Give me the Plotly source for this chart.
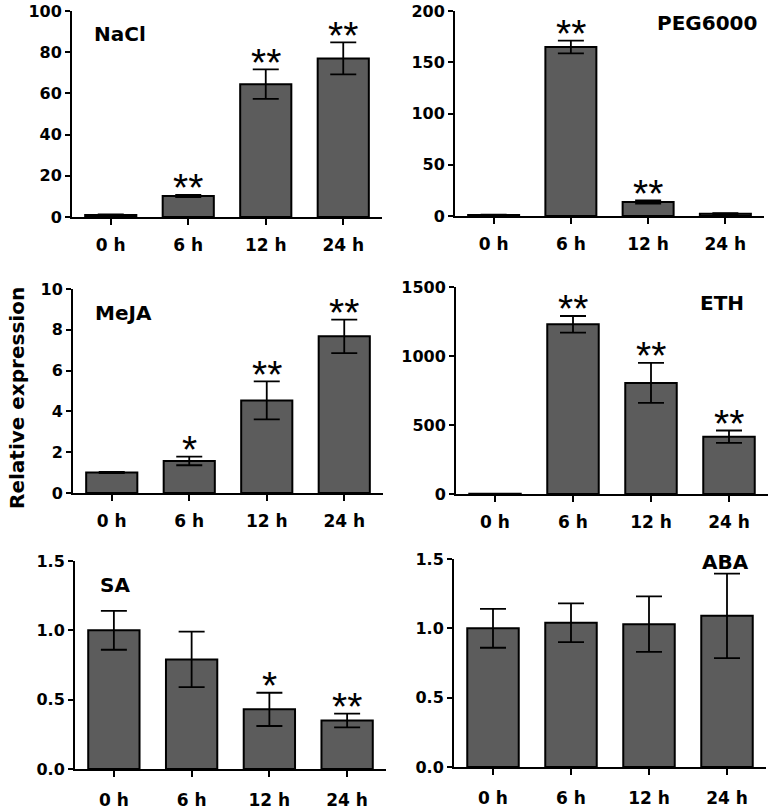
import plotly.graph_objects as go

categories = ["0 h", "6 h", "12 h", "24 h"]

nacl_mean = [1.0, 10.2, 64.5, 77.0]
nacl_err = [0.3, 0.5, 7.2, 7.8]
nacl_sig = ["", "**", "**", "**"]

peg_mean = [1.0, 164.9, 13.7, 2.3]
peg_err = [0.3, 6.2, 1.5, 0.5]
peg_sig = ["", "**", "**", ""]

meja_mean = [1.0, 1.57, 4.54, 7.68]
meja_err = [0.03, 0.21, 0.93, 0.82]
meja_sig = ["", "*", "**", "**"]

eth_mean = [1.0, 1230, 805, 415]
eth_err = [0.2, 60, 145, 45]
eth_sig = ["", "**", "**", "**"]

sa_mean = [1.0, 0.79, 0.43, 0.35]
sa_err = [0.14, 0.20, 0.12, 0.05]
sa_sig = ["", "", "*", "**"]

aba_mean = [1.0, 1.04, 1.03, 1.09]
aba_err = [0.14, 0.14, 0.20, 0.305]
aba_sig = ["", "", "", ""]

panel_names = ["NaCl", "PEG6000", "MeJA", "ETH", "SA", "ABA"]
y_ranges = [[0, 100], [0, 200], [0, 10], [0, 1500], [0, 1.5], [0, 1.5]]
y_ticks = [[0, 20, 40, 60, 80, 100], [0, 50, 100, 150, 200], [0, 2, 4, 6, 8, 10],
           [0, 500, 1000, 1500], [0, 0.5, 1.0, 1.5], [0, 0.5, 1.0, 1.5]]
y_fmt = ["", "", "", "", ".1f", ".1f"]

W, H = 772, 811
# plot-area pixel boxes (x0, x1, ytop, ybottom)
boxes = [(72, 382, 11, 217), (455, 764, 11, 216), (73, 383, 289, 493),
         (456, 768, 287, 494), (75, 386, 561, 769), (454, 766, 559, 767)]
standoffs = [6, 6, 6, 6, 9, 9]
# panel label centres in pixels
label_pos = [(120, 34), (707, 23), (124, 313), (722, 303), (115, 585), (725, 562)]

means = [nacl_mean, peg_mean, meja_mean, eth_mean, sa_mean, aba_mean]
errs = [nacl_err, peg_err, meja_err, eth_err, sa_err, aba_err]
sigs = [nacl_sig, peg_sig, meja_sig, eth_sig, sa_sig, aba_sig]

FONT = "DejaVu Sans, sans-serif"
STAR_FONT = "Liberation Sans, Arial, sans-serif"
fig = go.Figure()
layout = dict(template="none", width=W, height=H,
              margin=dict(l=0, r=0, t=0, b=0, autoexpand=False),
              paper_bgcolor="white", plot_bgcolor="white", showlegend=False,
              annotations=[])

for i in range(6):
    n = "" if i == 0 else str(i + 1)
    fig.add_trace(go.Bar(
        x=categories, y=means[i], xaxis="x" + n, yaxis="y" + n,
        marker=dict(color="#5c5c5c", line=dict(color="black", width=2)),
        error_y=dict(type="data", array=errs[i], visible=True, color="black",
                     thickness=1.8, width=13),
        width=0.66,
    ))
    x0, x1, yt, yb = boxes[i]
    layout["xaxis" + n] = dict(
        domain=[x0 / W, x1 / W], anchor="y" + n, type="category",
        range=[-0.5, 3.5], showline=True, linecolor="black", linewidth=2,
        ticks="outside", ticklen=6, tickwidth=2, tickcolor="black",
        showgrid=False, zeroline=False, ticklabelstandoff=standoffs[i],
        automargin=False,
        tickfont=dict(family=FONT, size=17, color="black", weight="bold"),
    )
    layout["yaxis" + n] = dict(
        domain=[1 - yb / H, 1 - yt / H], anchor="x" + n, range=y_ranges[i],
        tickvals=y_ticks[i], tickformat=y_fmt[i], showline=True, linecolor="black",
        linewidth=2, ticks="outside", ticklen=5, tickwidth=2, tickcolor="black",
        showgrid=False, zeroline=False, automargin=False,
        tickfont=dict(family=FONT, size=16, color="black", weight="bold"),
    )
    lx, ly = label_pos[i]
    layout["annotations"].append(dict(
        text="<b>" + panel_names[i] + "</b>", x=lx / W, y=1 - ly / H,
        xref="paper", yref="paper", xanchor="center", yanchor="middle",
        showarrow=False, font=dict(family=FONT, size=20, color="black")))
    for j, s in enumerate(sigs[i]):
        if s:
            layout["annotations"].append(dict(
                text=s, x=categories[j], y=means[i][j] + errs[i][j],
                xref="x" + n, yref="y" + n, xanchor="center", yanchor="middle",
                yshift=7, showarrow=False,
                font=dict(family=STAR_FONT, size=39, color="black")))

layout["annotations"].append(dict(
    text="<b>Relative expression</b>", x=17 / W, y=1 - 398 / H,
    xref="paper", yref="paper", textangle=-90, showarrow=False,
    xanchor="center", yanchor="middle",
    font=dict(family=FONT, size=20, color="black")))

fig.update_layout(**layout)
fig.write_html(
    "out.html",
    config={"displayModeBar": False},
    post_script="document.body.style.margin='0';document.body.style.padding='0';"
                "document.body.style.overflow='hidden';",
)
